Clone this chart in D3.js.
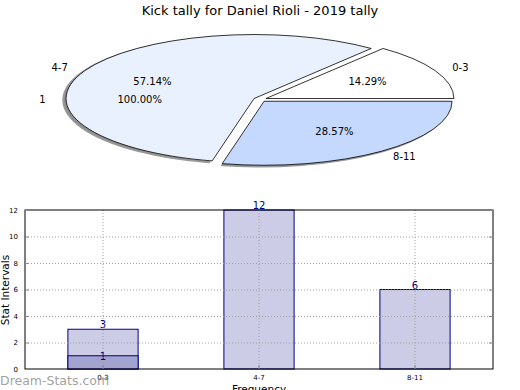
<!DOCTYPE html>
<html>
<head>
<meta charset="utf-8">
<script src="https://cdn.jsdelivr.net/npm/d3@7"></script>
<style>
  body { margin: 0; background: #fff; }
  text { font-family: "DejaVu Sans", sans-serif; }
</style>
</head>
<body>
<div id="chart"></div>
<script>
// dati
const title = "Kick tally for Daniel Rioli - 2019 tally";
const categories = ["0-3", "4-7", "8-11"];
const pieValues = [2, 8, 4];
const pieColors = ["#ffffff", "#eaf1fe", "#c4d9fd"];
const innerLabels = ["1"];
const innerValues = [1];
const barValues = [3, 12, 6];
const barInner = [1, 0, 0];
const yTicks = [0, 2, 4, 6, 8, 10, 12];

const width = 520, height = 390;

const svg = d3.select("#chart").append("svg")
  .attr("width", width)
  .attr("height", height);

// titolo
svg.append("text")
  .attr("x", 260).attr("y", 15)
  .attr("text-anchor", "middle")
  .attr("font-size", 13)
  .text(title);

// torta (ellisse schiacciata)
const cx = 260, cy = 99.5, rx = 188, ry = 64, explode = 0.035;
const pie = d3.pie().sort(null).startAngle(0).endAngle(2 * Math.PI);
const arcs = pie(pieValues);
const unitArc = d3.arc().innerRadius(0).outerRadius(1);
const bigArc = d3.arc().innerRadius(0).outerRadius(1.5);
// angoli in senso antiorario da est -> angoli d3
const toD3 = d => ({ startAngle: Math.PI / 2 - d.endAngle, endAngle: Math.PI / 2 - d.startAngle });

const offset = d => {
  const mid = (d.startAngle + d.endAngle) / 2;
  return [cx + explode * rx * Math.cos(mid), cy - explode * ry * Math.sin(mid)];
};

const defs = svg.append("defs");
// maschera: l'ombra si vede solo fuori dall'ellisse di base
const mask = defs.append("mask").attr("id", "shadowMask");
mask.append("rect").attr("width", width).attr("height", height).attr("fill", "#fff");
mask.append("ellipse")
  .attr("cx", cx).attr("cy", cy).attr("rx", rx).attr("ry", ry)
  .attr("fill", "#000");
// ogni ombra resta nel proprio settore
arcs.forEach((d, i) => {
  const [ox, oy] = offset(d);
  defs.append("clipPath").attr("id", "sect" + i)
    .append("path")
    .attr("d", bigArc(toD3(d)))
    .attr("transform", `translate(${ox},${oy}) scale(${rx},${ry})`);
});

const pieG = svg.append("g");

// ombre
const shadowG = pieG.append("g").attr("mask", "url(#shadowMask)");
arcs.forEach((d, i) => {
  const [ox, oy] = offset(d);
  shadowG.append("g")
    .attr("clip-path", `url(#sect${i})`)
    .append("path")
    .attr("d", unitArc(toD3(d)))
    .attr("transform", `translate(${ox - 3},${oy + 1.5}) scale(${rx},${ry})`)
    .attr("fill", "#333")
    .attr("fill-opacity", 0.55)
    .attr("stroke", "#999")
    .attr("stroke-width", 1.5)
    .attr("vector-effect", "non-scaling-stroke");
});

pieG.selectAll("path.wedge")
  .data(arcs)
  .enter().append("path")
  .attr("class", "wedge")
  .attr("d", d => unitArc(toD3(d)))
  .attr("transform", d => {
    const [ox, oy] = offset(d);
    return `translate(${ox},${oy}) scale(${rx},${ry})`;
  })
  .attr("fill", (d, i) => pieColors[i])
  .attr("stroke", "#000")
  .attr("stroke-width", 0.8)
  .attr("vector-effect", "non-scaling-stroke");

// etichette torta
arcs.forEach((d, i) => {
  const mid = (d.startAngle + d.endAngle) / 2;
  const [ox, oy] = offset(d);
  const lx = ox + 1.1 * rx * Math.cos(mid), ly = oy - 1.1 * ry * Math.sin(mid);
  svg.append("text")
    .attr("x", lx).attr("y", ly)
    .attr("dy", "0.35em")
    .attr("text-anchor", Math.cos(mid) < 0 ? "end" : "start")
    .attr("font-size", 10)
    .text(categories[i]);
  const px = ox + 0.6 * rx * Math.cos(mid), py = oy - 0.6 * ry * Math.sin(mid);
  svg.append("text")
    .attr("x", px).attr("y", py)
    .attr("dy", "0.35em")
    .attr("text-anchor", "middle")
    .attr("font-size", 10)
    .text((d.value / d3.sum(pieValues) * 100).toFixed(2) + "%");
});

// seconda serie (100%)
pie(innerValues).forEach((d, i) => {
  const mid = (d.startAngle + d.endAngle) / 2;
  svg.append("text")
    .attr("x", cx + 1.14 * rx * Math.cos(mid)).attr("y", cy - 1.1 * ry * Math.sin(mid))
    .attr("dy", "0.35em")
    .attr("text-anchor", "end")
    .attr("font-size", 10)
    .text(innerLabels[i]);
  svg.append("text")
    .attr("x", cx + 0.64 * rx * Math.cos(mid)).attr("y", cy - 0.6 * ry * Math.sin(mid))
    .attr("dy", "0.35em")
    .attr("text-anchor", "middle")
    .attr("font-size", 10)
    .text((d.value / d3.sum(innerValues) * 100).toFixed(2) + "%");
});

// istogramma
const mLeft = 25, mRight = 493, mTop = 210, mBottom = 369;
const x = d3.scaleBand().domain(categories).range([mLeft, mRight])
  .paddingInner(0.55).paddingOuter(0.275);
const y = d3.scaleLinear().domain([0, 12]).range([mBottom, mTop]);

const barG = svg.append("g");
barG.selectAll("rect.main")
  .data(barValues)
  .enter().append("rect")
  .attr("class", "main")
  .attr("x", (d, i) => x(categories[i]))
  .attr("y", d => y(d))
  .attr("width", x.bandwidth())
  .attr("height", d => y(0) - y(d))
  .attr("fill", "#cccce6")
  .attr("stroke", "#000080")
  .attr("stroke-width", 1);

barG.selectAll("rect.inner")
  .data(barInner)
  .enter().append("rect")
  .attr("class", "inner")
  .attr("x", (d, i) => x(categories[i]))
  .attr("y", d => y(d))
  .attr("width", x.bandwidth())
  .attr("height", d => y(0) - y(d))
  .attr("fill", "#a3a3cf")
  .attr("stroke", d => d > 0 ? "#000080" : "none")
  .attr("stroke-width", 1);

// griglia
const grid = svg.append("g")
  .attr("stroke", "#a0a0a0")
  .attr("stroke-width", 1)
  .attr("stroke-dasharray", "1,2");
grid.selectAll("line.h")
  .data(yTicks.slice(1, -1))
  .enter().append("line")
  .attr("x1", mLeft).attr("x2", mRight)
  .attr("y1", d => y(d) + 0.5).attr("y2", d => y(d) + 0.5);
grid.selectAll("line.v")
  .data(categories)
  .enter().append("line")
  .attr("x1", d => x(d) + x.bandwidth() / 2).attr("x2", d => x(d) + x.bandwidth() / 2)
  .attr("y1", mTop).attr("y2", mBottom);

// cornice
svg.append("rect")
  .attr("x", mLeft).attr("y", mTop)
  .attr("width", mRight - mLeft).attr("height", mBottom - mTop)
  .attr("fill", "none")
  .attr("stroke", "#000")
  .attr("stroke-width", 1);

// assi
const yAxis = svg.append("g")
  .attr("transform", `translate(${mLeft},0)`)
  .call(d3.axisLeft(y).tickValues(yTicks).tickSize(-4).tickPadding(7));
yAxis.select(".domain").remove();
yAxis.selectAll("text").attr("font-size", 7).attr("font-family", "DejaVu Sans");
yAxis.selectAll("line").attr("stroke", "#888");

const yAxisR = svg.append("g")
  .attr("transform", `translate(${mRight},0)`)
  .call(d3.axisRight(y).tickValues(yTicks).tickSize(-4).tickFormat(""));
yAxisR.select(".domain").remove();
yAxisR.selectAll("line").attr("stroke", "#888");

const xAxis = svg.append("g")
  .attr("transform", `translate(0,${mBottom})`)
  .call(d3.axisBottom(x).tickSize(-4).tickPadding(6));
xAxis.select(".domain").remove();
xAxis.selectAll("text").attr("font-size", 7).attr("font-family", "DejaVu Sans");
xAxis.selectAll("line").attr("stroke", "#888");

// etichette valori
barG.selectAll("text.val")
  .data(barValues)
  .enter().append("text")
  .attr("x", (d, i) => x(categories[i]) + x.bandwidth() / 2)
  .attr("y", d => y(d) - 1)
  .attr("text-anchor", "middle")
  .attr("font-size", 10)
  .attr("fill", "#000080")
  .text(d => d);
barG.selectAll("text.ival")
  .data(barInner)
  .enter().append("text")
  .attr("x", (d, i) => x(categories[i]) + x.bandwidth() / 2)
  .attr("y", d => y(d) + 4)
  .attr("text-anchor", "middle")
  .attr("font-size", 10)
  .attr("fill", "#000080")
  .text(d => d > 0 ? d : "");

// titoli assi
svg.append("text")
  .attr("transform", "translate(9,290) rotate(-90)")
  .attr("text-anchor", "middle")
  .attr("font-size", 10.5)
  .text("Stat Intervals");
svg.append("text")
  .attr("x", 259).attr("y", 393)
  .attr("text-anchor", "middle")
  .attr("font-size", 10.5)
  .text("Frequency");

// filigrana
svg.append("text")
  .attr("x", 0).attr("y", 385)
  .attr("font-size", 12.5)
  .attr("fill", "#888")
  .attr("fill-opacity", 0.8)
  .text("Dream-Stats.com");
</script>
</body>
</html>
